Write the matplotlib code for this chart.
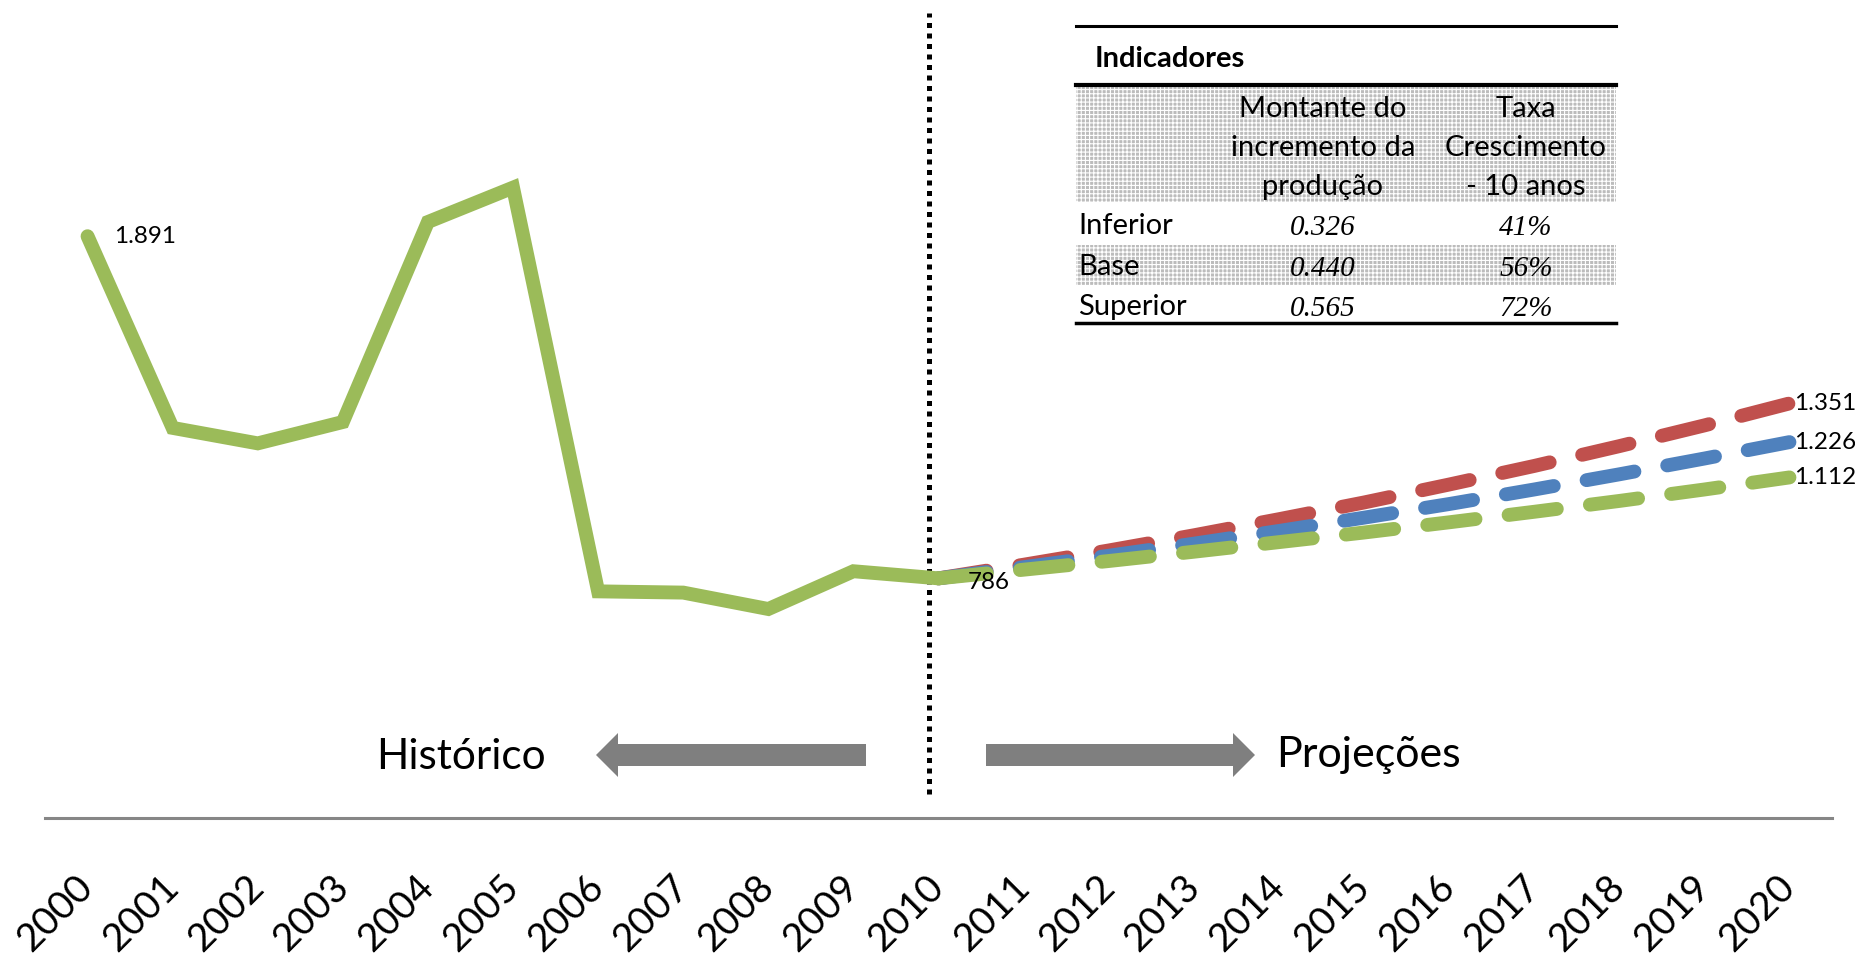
import matplotlib
matplotlib.use("Agg")
import matplotlib.pyplot as plt
from matplotlib.patches import Rectangle, FancyArrow

plt.rcParams['font.family'] = ['Lato', 'DejaVu Sans']
plt.rcParams['hatch.linewidth'] = 0.8

# ---------------- data ----------------
years = [str(y) for y in range(2000, 2021)]
historico = [1891, 1272, 1222, 1291, 1937, 2048, 744, 740, 687, 809, 786]
proj_superior = [786, 830, 876, 925, 977, 1031, 1089, 1149, 1213, 1280, 1351]
proj_base = [786, 822, 859, 898, 939, 982, 1026, 1073, 1122, 1173, 1226]
proj_inferior = [786, 814, 842, 872, 903, 934, 967, 1001, 1036, 1073, 1112]

table_title = "Indicadores"
table_header_1 = ["Montante do", "incremento da", "produção"]
table_header_2 = ["Taxa", "Crescimento", "- 10 anos"]
table_rows = ["Inferior", "Base", "Superior"]
table_montante = ["0.326", "0.440", "0.565"]
table_taxa = ["41%", "56%", "72%"]

GREEN = '#9BBB59'
RED = '#C0504D'
BLUE = '#4F81BD'
GRAY = '#7F7F7F'

W, H = 1856, 963
fig = plt.figure(figsize=(W / 100, H / 100), dpi=100)

ax = fig.add_axes([45 / W, (H - 818) / H, (1832 - 45) / W, (818 - 13) / H])
ax.set_xlim(-0.5, 20.5)
ax.set_ylim(12, 2612)

def fmt(v):
    return f"{v:,.0f}".replace(",", ".")

x_hist = list(range(len(historico)))
x_proj = list(range(len(historico) - 1, len(historico) - 1 + len(proj_base)))

lw = 10
dash = (3.5, 2.4)
ax.plot(x_proj, proj_superior, color=RED, lw=lw, dashes=dash, dash_capstyle='round', zorder=3)
ax.plot(x_proj, proj_base, color=BLUE, lw=lw, dashes=dash, dash_capstyle='round', zorder=4)
ax.plot(x_proj, proj_inferior, color=GREEN, lw=lw, dashes=dash, dash_capstyle='round', zorder=5)
ax.plot(x_hist, historico, color=GREEN, lw=lw, solid_capstyle='round',
        solid_joinstyle='miter', zorder=6)

# data labels
lab_kw = dict(fontsize=17.5, color='black', va='center', ha='left', zorder=8)
ax.annotate(fmt(historico[0]), (x_hist[0], historico[0]), xytext=(19, 0),
            textcoords='offset points', **lab_kw)
ax.annotate(fmt(historico[-1]), (x_hist[-1], historico[-1]), xytext=(21, -3),
            textcoords='offset points', **lab_kw)
for series in (proj_superior, proj_base, proj_inferior):
    ax.annotate(fmt(series[-1]), (x_proj[-1], series[-1]), xytext=(3, 0),
                textcoords='offset points', **lab_kw)

# separator
ax.axvline(9.89, ymin=0.03, ymax=1.0, color='black', lw=3.6, dashes=(1, 1.1), zorder=2)

# axes styling
for s in ('left', 'right', 'top'):
    ax.spines[s].set_visible(False)
ax.spines['bottom'].set_color('#868686')
ax.spines['bottom'].set_linewidth(2.2)
ax.set_yticks([])
ax.set_xticks(range(len(years)))
ax.set_xticklabels(years, rotation=45, ha='right', va='center', rotation_mode='anchor',
                   fontsize=28)
ax.tick_params(axis='x', length=0, pad=46)

# ---------------- overlay (pixel coords) ----------------
ov = fig.add_axes([0, 0, 1, 1], zorder=10)
ov.set_xlim(0, W)
ov.set_ylim(H, 0)
ov.axis('off')
ov.patch.set_alpha(0)

# arrows
ov.add_patch(FancyArrow(866, 755, -270, 0, width=22, head_width=44, head_length=22,
                        length_includes_head=True, color=GRAY, lw=0))
ov.add_patch(FancyArrow(986, 755, 269, 0, width=22, head_width=44, head_length=22,
                        length_includes_head=True, color=GRAY, lw=0))
ov.text(461, 757, "Histórico", fontsize=30.5, ha='center', va='center')
ov.text(1368, 755, "Projeções", fontsize=31, ha='center', va='center')

# table
tx0, tx1 = 1076, 1616
ov.plot([tx0, tx1], [26, 26], color='black', lw=2.2)
ov.text(1095, 59, table_title, fontsize=21, fontweight='bold', ha='left', va='center')
ov.add_patch(Rectangle((tx0, 86), tx1 - tx0, 202 - 86, facecolor='#bcbcbc',
                       edgecolor='white', hatch='++++', lw=0))
ov.add_patch(Rectangle((tx0, 245), tx1 - tx0, 285 - 245, facecolor='#bcbcbc',
                       edgecolor='white', hatch='++++', lw=0))
ov.plot([tx0, tx1], [85, 85], color='black', lw=3)
ov.plot([tx0, tx1], [323, 323], color='black', lw=2.5)

c1, c2 = 1323, 1526
for i, (a, b) in enumerate(zip(table_header_1, table_header_2)):
    yy = 109 + i * 39
    ov.text(c1, yy, a, fontsize=21, ha='center', va='center')
    ov.text(c2, yy, b, fontsize=21, ha='center', va='center')

row_y = [226, 267, 307]
for yy, r, m, t in zip(row_y, table_rows, table_montante, table_taxa):
    ov.text(1078, yy, r, fontsize=21, ha='left', va='center')
    ov.text(c1, yy + 2, m, fontsize=21, ha='center', va='center',
            family='Liberation Serif', style='italic')
    ov.text(c2, yy + 2, t, fontsize=21, ha='center', va='center',
            family='Liberation Serif', style='italic')

fig.savefig('out.png', dpi=100, facecolor='white')
